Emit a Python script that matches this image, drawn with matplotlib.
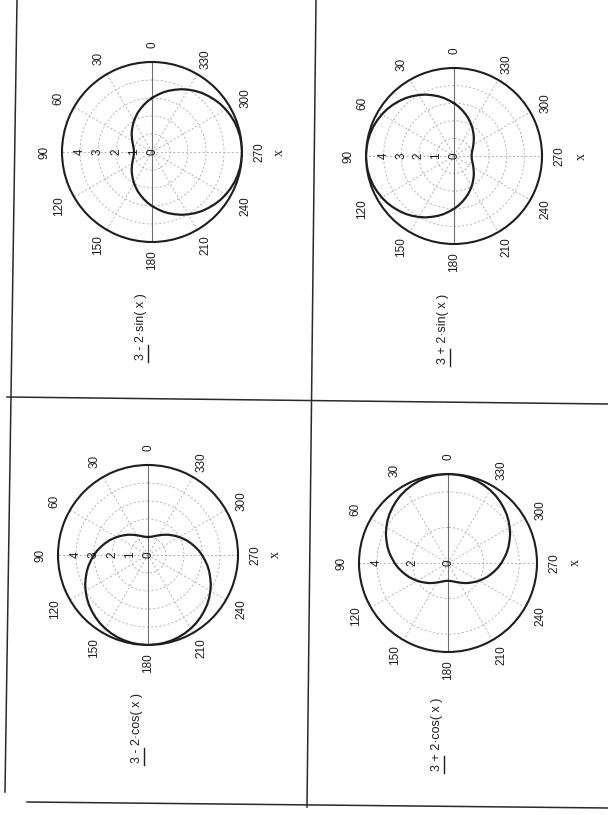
import numpy as np
import matplotlib.pyplot as plt
from matplotlib.lines import Line2D

# scanned Mathcad page: four polar plots, page turned on its side
plt.rcParams['font.family'] = ['Liberation Sans', 'DejaVu Sans']

W, H = 608, 815

# radii every 5 degrees (0 ... 355)
angle_deg = list(range(0, 360, 5))
r_minus_sin = [3.0, 2.83, 2.65, 2.48, 2.32, 2.15, 2.0, 1.85, 1.71, 1.59, 1.47, 1.36,
               1.27, 1.19, 1.12, 1.07, 1.03, 1.01, 1.0, 1.01, 1.03, 1.07, 1.12, 1.19,
               1.27, 1.36, 1.47, 1.59, 1.71, 1.85, 2.0, 2.15, 2.32, 2.48, 2.65, 2.83,
               3.0, 3.17, 3.35, 3.52, 3.68, 3.85, 4.0, 4.15, 4.29, 4.41, 4.53, 4.64,
               4.73, 4.81, 4.88, 4.93, 4.97, 4.99, 5.0, 4.99, 4.97, 4.93, 4.88, 4.81,
               4.73, 4.64, 4.53, 4.41, 4.29, 4.15, 4.0, 3.85, 3.68, 3.52, 3.35, 3.17]
r_plus_sin = [3.0, 3.17, 3.35, 3.52, 3.68, 3.85, 4.0, 4.15, 4.29, 4.41, 4.53, 4.64,
              4.73, 4.81, 4.88, 4.93, 4.97, 4.99, 5.0, 4.99, 4.97, 4.93, 4.88, 4.81,
              4.73, 4.64, 4.53, 4.41, 4.29, 4.15, 4.0, 3.85, 3.68, 3.52, 3.35, 3.17,
              3.0, 2.83, 2.65, 2.48, 2.32, 2.15, 2.0, 1.85, 1.71, 1.59, 1.47, 1.36,
              1.27, 1.19, 1.12, 1.07, 1.03, 1.01, 1.0, 1.01, 1.03, 1.07, 1.12, 1.19,
              1.27, 1.36, 1.47, 1.59, 1.71, 1.85, 2.0, 2.15, 2.32, 2.48, 2.65, 2.83]
r_minus_cos = [1.0, 1.01, 1.03, 1.07, 1.12, 1.19, 1.27, 1.36, 1.47, 1.59, 1.71, 1.85,
               2.0, 2.15, 2.32, 2.48, 2.65, 2.83, 3.0, 3.17, 3.35, 3.52, 3.68, 3.85,
               4.0, 4.15, 4.29, 4.41, 4.53, 4.64, 4.73, 4.81, 4.88, 4.93, 4.97, 4.99,
               5.0, 4.99, 4.97, 4.93, 4.88, 4.81, 4.73, 4.64, 4.53, 4.41, 4.29, 4.15,
               4.0, 3.85, 3.68, 3.52, 3.35, 3.17, 3.0, 2.83, 2.65, 2.48, 2.32, 2.15,
               2.0, 1.85, 1.71, 1.59, 1.47, 1.36, 1.27, 1.19, 1.12, 1.07, 1.03, 1.01]
r_plus_cos = [5.0, 4.99, 4.97, 4.93, 4.88, 4.81, 4.73, 4.64, 4.53, 4.41, 4.29, 4.15,
              4.0, 3.85, 3.68, 3.52, 3.35, 3.17, 3.0, 2.83, 2.65, 2.48, 2.32, 2.15,
              2.0, 1.85, 1.71, 1.59, 1.47, 1.36, 1.27, 1.19, 1.12, 1.07, 1.03, 1.01,
              1.0, 1.01, 1.03, 1.07, 1.12, 1.19, 1.27, 1.36, 1.47, 1.59, 1.71, 1.85,
              2.0, 2.15, 2.32, 2.48, 2.65, 2.83, 3.0, 3.17, 3.35, 3.52, 3.68, 3.85,
              4.0, 4.15, 4.29, 4.41, 4.53, 4.64, 4.73, 4.81, 4.88, 4.93, 4.97, 4.99]

trace_labels = ['3 - 2·sin( x )', '3 + 2·sin( x )',
                '3 - 2·cos( x )', '3 + 2·cos( x )']
theta_ticks = [0, 30, 60, 90, 120, 150, 180, 210, 240, 270, 300, 330]
r_ticks_fine = [1, 2, 3, 4]
r_ticks_coarse = [2, 4]
r_max = 5

# (radii, label, r ticks, centre px, radius px)
panels = [
    (r_minus_sin, trace_labels[0], r_ticks_fine, (152, 152), 90),
    (r_plus_sin, trace_labels[1], r_ticks_fine, (454, 156), 88),
    (r_minus_cos, trace_labels[2], r_ticks_fine, (148, 555), 90),
    (r_plus_cos, trace_labels[3], r_ticks_coarse, (448, 563), 89),
]

INK = '#1e1e1e'
GRID = '#ababab'


def fx(x):
    return x / W


def fy(y):
    return 1 - y / H


fig = plt.figure(figsize=(W / 100, H / 100), dpi=100)
fig.patch.set_facecolor('white')

for r, label, rticks, (cx, cy), R in panels:
    ax = fig.add_axes([fx(cx - R), fy(cy + R), 2 * R / W, 2 * R / H],
                      projection='polar')
    ax.set_theta_zero_location('N')
    ax.set_theta_direction(1)

    th = np.deg2rad(angle_deg + [360])
    ax.plot(th, list(r) + [r[0]], color=INK, lw=1.6, zorder=4)
    ax.set_ylim(0, r_max)

    ax.set_thetagrids(theta_ticks, [str(t) for t in theta_ticks], fontsize=8.5)
    ax.tick_params(axis='x', labelrotation=90, pad=2.2, colors=INK)
    ax.set_rgrids(rticks, labels=[''] * len(rticks))
    ax.grid(True, color=GRID, ls=(0, (2.5, 2.5)), lw=0.6)
    ax.axvline(0, color='#707070', lw=0.8, zorder=2)
    ax.axvline(np.pi, color='#707070', lw=0.8, zorder=2)
    ax.spines['polar'].set_linewidth(1.5)
    ax.spines['polar'].set_color(INK)

    # radial labels along the 90 degree spoke
    for rt in [0] + rticks:
        ax.text(np.pi / 2, rt, str(rt), rotation=90, ha='center', va='center',
                fontsize=8.5, color=INK, zorder=5)

    # trace legend: expression with a short line sample beneath it
    fig.text(fx(cx - 8), fy(cy + 208), label, rotation=90, rotation_mode='anchor',
             ha='left', va='baseline', fontsize=9, color=INK)
    fig.add_artist(Line2D([fx(cx - 4), fx(cx - 4)], [fy(cy + 193), fy(cy + 210)],
                          transform=fig.transFigure, color=INK, lw=1.0))
    fig.text(fx(cx + 127), fy(cy), 'x', rotation=90, ha='center', va='center',
             fontsize=10, color=INK, family=['Liberation Serif', 'DejaVu Serif'])

# page frame and region dividers from the scan
frame = [((17, 0), (5, 792)), ((27, 802), (608, 808)),
         ((316, 0), (307, 807)), ((7, 397), (608, 404))]
for (x0, y0), (x1, y1) in frame:
    fig.add_artist(Line2D([fx(x0), fx(x1)], [fy(y0), fy(y1)],
                          transform=fig.transFigure, color='#2a2a2a', lw=1.1))

fig.savefig('out.png', dpi=100, facecolor='white')
